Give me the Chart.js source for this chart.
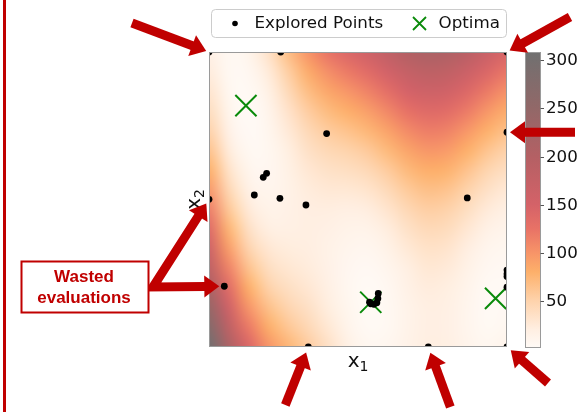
<!DOCTYPE html>
<html>
<head>
<meta charset="utf-8">
<script src="https://cdn.jsdelivr.net/npm/chart.js@4.4.1/dist/chart.umd.min.js"></script>
<style>
  html, body { margin: 0; padding: 0; background: #fff; }
  #wrap { width: 583px; height: 412px; }
</style>
</head>
<body>
<div id="wrap"><canvas id="c" width="583" height="412"></canvas></div>
<script>
// Branin surface, sampled on a 1x1 grid: rows are x2 = 0..15, columns x1 = -5..10
const X1_GRID = [-5,-4,-3,-2,-1,0,1,2,3,4,5,6,7,8,9,10];
const X2_GRID = [0,1,2,3,4,5,6,7,8,9,10,11,12,13,14,15];
const F_GRID = [
  [308.1,212.0,143.0,100.1,74.8,55.6,35.8,17.1,6.2,6.6,14.3,20.4,18.7,11.0,5.8,11.0],
  [274.7,184.2,120.1,81.7,60.4,44.6,27.7,11.4,2.4,4.2,12.8,19.2,17.3,8.9,2.6,6.0],
  [243.4,158.3,99.2,65.3,47.9,35.6,21.6,7.8,0.6,3.8,13.3,20.0,17.9,8.8,1.3,2.9],
  [214.0,134.4,80.4,50.9,37.5,28.6,17.6,6.1,0.9,5.4,15.7,22.8,20.5,10.7,2.0,1.9],
  [186.6,112.6,63.5,38.5,29.0,23.6,15.5,6.4,3.1,9.0,20.2,27.6,25.1,14.7,4.7,2.9],
  [161.2,92.7,48.6,28.1,22.6,20.6,15.4,8.8,7.3,14.6,26.6,34.4,31.8,20.6,9.4,5.9],
  [137.9,74.8,35.7,19.7,18.2,19.6,17.3,13.1,13.5,22.2,35.1,43.2,40.4,28.5,16.2,10.9],
  [116.5,59.0,24.9,13.3,15.7,20.6,21.2,19.4,21.8,31.8,45.5,54.0,51.0,38.5,24.9,17.9],
  [97.1,45.1,16.0,8.9,15.3,23.6,27.2,27.8,32.0,43.4,58.0,66.8,63.6,50.4,35.6,26.9],
  [79.8,33.2,9.1,6.5,16.8,28.6,35.1,38.1,44.2,57.0,72.4,81.6,78.2,64.3,48.3,37.9],
  [64.4,23.4,4.2,6.1,20.4,35.6,45.0,50.4,58.4,72.6,88.9,98.4,94.9,80.3,63.0,50.9],
  [51.0,15.5,1.4,7.7,25.9,44.6,56.9,64.8,74.7,90.2,107.4,117.2,113.5,98.2,79.7,65.9],
  [39.6,9.6,0.5,11.3,33.5,55.6,70.9,81.1,92.9,109.8,127.8,138.0,134.1,118.1,98.5,82.9],
  [30.3,5.8,1.6,16.9,43.1,68.6,86.8,99.4,113.1,131.4,150.3,160.8,156.7,140.0,119.2,101.9],
  [22.9,3.9,4.7,24.5,54.6,83.6,104.7,119.8,135.3,155.0,174.7,185.6,181.4,164.0,141.9,122.9],
  [17.5,4.0,9.9,34.1,68.2,100.6,124.6,142.1,159.6,180.6,201.2,212.4,208.0,189.9,166.6,145.9]
];

// sampled locations
const EXPLORED_X1 = [-5,-1.39,10,0.92,10,-2.10,-2.27,-2.72,-1.43,-0.12,-5,8.0,-4.23,3.52,3.50,3.45,3.30,3.14,3.08,10,10,10,10,0,6.04,10];
const EXPLORED_X2 = [15,15,15,10.85,10.92,8.83,8.63,7.73,7.56,7.22,7.51,7.58,3.09,2.72,2.47,2.25,2.17,2.20,2.28,3.91,3.72,3.58,3.04,0,0,0];

// the three global minima
const OPTIMA_X1 = [-3.1416, 3.1416, 9.4248];
const OPTIMA_X2 = [12.275, 2.275, 2.475];

const CB_TICKS = [50,100,150,200,250,300];
const CB_MIN = 1.5, CB_MAX = 308.1;

// edge samples that get an arrow, and the two called out by the note
const EDGE_HITS = [0, 2, 4, 23, 24, 25];
const WASTED_HITS = [10, 12];

// colour ramp: value -> rgb
const CMAP = [
  [0,   [255,250,246]],
  [20,  [255,239,226]],
  [50,  [254,211,172]],
  [80,  [253,176,106]],
  [100, [247,148,104]],
  [125, [232,114,102]],
  [150, [212,98,104]],
  [200, [180,96,100]],
  [250, [146,104,104]],
  [308, [112,112,112]]
];
function valueColor(v){
  if (v <= CMAP[0][0]) return CMAP[0][1];
  for (let i = 1; i < CMAP.length; i++){
    const [v1, c1] = CMAP[i];
    if (v <= v1){
      const [v0, c0] = CMAP[i-1];
      const t = (v - v0) / (v1 - v0);
      return c0.map((c, k) => Math.round(c + (c1[k] - c) * t));
    }
  }
  return CMAP[CMAP.length-1][1];
}

const RED = "#c00000";
const GREEN = "#0a8a0a";
const FONT = "DejaVu Sans";

// small offscreen image holding one pixel per grid sample
const heatImg = document.createElement("canvas");
heatImg.width = X1_GRID.length; heatImg.height = X2_GRID.length;
(function(){
  const hctx = heatImg.getContext("2d");
  const w = heatImg.width, h = heatImg.height;
  const img = hctx.createImageData(w, h);
  F_GRID.forEach((row, j) => row.forEach((v, i) => {
    const c = valueColor(v), k = ((h - 1 - j) * w + i) * 4;
    img.data[k] = c[0]; img.data[k+1] = c[1]; img.data[k+2] = c[2]; img.data[k+3] = 255;
  }));
  hctx.putImageData(img, 0, 0);
})();

const heatmapPlugin = {
  id: "heatmap",
  beforeDatasetsDraw(chart){
    const { ctx, chartArea: a, scales: { x, y } } = chart;
    const hx = (X1_GRID[1] - X1_GRID[0]) / 2, hy = (X2_GRID[1] - X2_GRID[0]) / 2;
    const left = x.getPixelForValue(X1_GRID[0] - hx), right = x.getPixelForValue(X1_GRID[X1_GRID.length-1] + hx);
    const top = y.getPixelForValue(X2_GRID[X2_GRID.length-1] + hy), bottom = y.getPixelForValue(X2_GRID[0] - hy);
    ctx.save();
    ctx.beginPath(); ctx.rect(a.left, a.top, a.width, a.height); ctx.clip();
    ctx.imageSmoothingEnabled = true; ctx.imageSmoothingQuality = "high";
    ctx.drawImage(heatImg, left, top, right - left, bottom - top);
    ctx.restore();
  },
  afterDatasetsDraw(chart){
    const { ctx, chartArea: a } = chart;
    ctx.save();
    ctx.strokeStyle = "#9a9a9a"; ctx.lineWidth = 1;
    ctx.strokeRect(a.left + 0.5, a.top + 0.5, a.width - 1, a.height - 1);
    ctx.restore();
  }
};

function drawSubLabel(ctx, main, sub, x, y){
  ctx.font = "20px " + FONT;
  const w1 = ctx.measureText(main).width;
  ctx.font = "14px " + FONT;
  const w2 = ctx.measureText(sub).width;
  const x0 = x - (w1 + w2) / 2;
  ctx.textBaseline = "alphabetic"; ctx.textAlign = "left";
  ctx.font = "20px " + FONT; ctx.fillText(main, x0, y);
  ctx.font = "14px " + FONT; ctx.fillText(sub, x0 + w1, y + 4);
}

const axisLabelPlugin = {
  id: "axisLabels",
  afterDraw(chart){
    const { ctx, chartArea: a } = chart;
    ctx.save();
    ctx.fillStyle = "#111";
    drawSubLabel(ctx, "x", "1", (a.left + a.right) / 2, a.bottom + 20);
    ctx.translate(a.left - 9, (a.top + a.bottom) / 2);
    ctx.rotate(-Math.PI / 2);
    drawSubLabel(ctx, "x", "2", 0, 0);
    ctx.restore();
  }
};

const colorbarPlugin = {
  id: "colorbar",
  afterDraw(chart){
    const { ctx, chartArea: a } = chart;
    const left = a.right + 18.5, w = 15, top = a.top + 0.5, bottom = a.bottom + 0.5;
    const yOf = v => bottom - (v - CB_MIN) / (CB_MAX - CB_MIN) * (bottom - top);
    ctx.save();
    const g = ctx.createLinearGradient(0, top, 0, bottom);
    CMAP.forEach(([v, c]) => {
      const off = Math.min(1, Math.max(0, (CB_MAX - v) / (CB_MAX - CB_MIN)));
      g.addColorStop(off, `rgb(${c[0]},${c[1]},${c[2]})`);
    });
    ctx.fillStyle = g;
    ctx.fillRect(left, top, w, bottom - top);
    ctx.strokeStyle = "#9a9a9a"; ctx.lineWidth = 1;
    ctx.strokeRect(left, top, w, bottom - top);
    ctx.font = "16.7px " + FONT; ctx.fillStyle = "#111";
    ctx.textAlign = "left"; ctx.textBaseline = "middle";
    CB_TICKS.forEach(v => {
      const ty = Math.round(yOf(v)) + 0.5;
      ctx.strokeStyle = "#555";
      ctx.beginPath(); ctx.moveTo(left + w, ty); ctx.lineTo(left + w + 3.5, ty); ctx.stroke();
      ctx.fillText(String(v), left + w + 5.5, ty);
    });
    ctx.restore();
  }
};

const legendPlugin = {
  id: "boxLegend",
  afterDraw(chart){
    const { ctx } = chart;
    const bx = 211.5, by = 9.5, bw = 295, bh = 28, cy = by + bh / 2;
    ctx.save();
    ctx.beginPath(); ctx.roundRect(bx, by, bw, bh, 4);
    ctx.fillStyle = "rgba(255,255,255,0.85)"; ctx.fill();
    ctx.strokeStyle = "#cccccc"; ctx.lineWidth = 1; ctx.stroke();
    const ds = chart.data.datasets;
    ctx.fillStyle = "#000";
    ctx.beginPath(); ctx.arc(bx + 23.5, cy, 2.8, 0, Math.PI * 2); ctx.fill();
    ctx.strokeStyle = GREEN; ctx.lineWidth = 1.8;
    const ox = bx + 208, r = 6.5;
    ctx.beginPath();
    ctx.moveTo(ox - r, cy - r); ctx.lineTo(ox + r, cy + r);
    ctx.moveTo(ox - r, cy + r); ctx.lineTo(ox + r, cy - r);
    ctx.stroke();
    ctx.fillStyle = "#111"; ctx.font = "16.7px " + FONT;
    ctx.textAlign = "left"; ctx.textBaseline = "middle";
    ctx.fillText(ds[0].label, bx + 43, cy);
    ctx.fillText(ds[1].label, bx + 227, cy);
    ctx.restore();
  }
};

// red call-outs
const SHAFT_W = 9, HEAD_W = 22, HEAD_L = 15;
function arrowHead(ctx, bx, by, hx, hy, ux, uy){
  const nx = -uy, ny = ux;
  ctx.beginPath();
  ctx.moveTo(bx + nx * HEAD_W / 2, by + ny * HEAD_W / 2);
  ctx.lineTo(hx, hy);
  ctx.lineTo(bx - nx * HEAD_W / 2, by - ny * HEAD_W / 2);
  ctx.closePath(); ctx.fill();
}
function arrow(ctx, tx, ty, hx, hy){
  const L = Math.hypot(hx - tx, hy - ty), ux = (hx - tx) / L, uy = (hy - ty) / L;
  const bx = hx - ux * HEAD_L, by = hy - uy * HEAD_L;
  ctx.beginPath(); ctx.moveTo(tx, ty); ctx.lineTo(bx + ux, by + uy); ctx.stroke();
  arrowHead(ctx, bx, by, hx, hy, ux, uy);
}
function tipToward(px, py, fx, fy, gap){
  const L = Math.hypot(px - fx, py - fy);
  return [px - (px - fx) / L * gap, py - (py - fy) / L * gap];
}

const EDGE_TAILS = [[-77,-29],[63,-35],[68,0],[-23,58],[22,60],[41,36]];
const EDGE_GAPS = [3, 3, 3, 6, 6, 5];

const calloutPlugin = {
  id: "callouts",
  afterDraw(chart){
    const { ctx, scales: { x, y } } = chart;
    const px = i => [x.getPixelForValue(EXPLORED_X1[i]), y.getPixelForValue(EXPLORED_X2[i])];
    ctx.save();
    ctx.fillStyle = RED; ctx.strokeStyle = RED;
    ctx.lineWidth = SHAFT_W; ctx.lineCap = "butt"; ctx.lineJoin = "miter";

    ctx.fillRect(3, 0, 3, chart.height);

    EDGE_HITS.forEach((idx, k) => {
      const [cx, cy] = px(idx);
      const tx = cx + EDGE_TAILS[k][0], ty = cy + EDGE_TAILS[k][1];
      const [hx, hy] = tipToward(cx, cy, tx, ty, EDGE_GAPS[k]);
      arrow(ctx, tx, ty, hx, hy);
    });

    // note box with a bent double arrow
    const vx = 153, vy = 287;
    const tips = WASTED_HITS.map(idx => { const [cx, cy] = px(idx); return tipToward(cx, cy, vx, vy, 5); });
    const bases = tips.map(([hx, hy]) => {
      const L = Math.hypot(hx - vx, hy - vy), ux = (hx - vx) / L, uy = (hy - vy) / L;
      return { bx: hx - ux * HEAD_L, by: hy - uy * HEAD_L, ux, uy, hx, hy };
    });
    ctx.beginPath();
    ctx.moveTo(bases[0].bx + bases[0].ux, bases[0].by + bases[0].uy);
    ctx.lineTo(vx, vy);
    ctx.lineTo(bases[1].bx + bases[1].ux, bases[1].by + bases[1].uy);
    ctx.stroke();
    bases.forEach(b => arrowHead(ctx, b.bx, b.by, b.hx, b.hy, b.ux, b.uy));

    ctx.lineWidth = 2;
    ctx.fillStyle = "#fff";
    ctx.fillRect(21.5, 261.5, 127, 51);
    ctx.strokeRect(21.5, 261.5, 127, 51);
    ctx.fillStyle = RED;
    ctx.font = "bold 17px 'Liberation Sans', Arial, sans-serif";
    ctx.textAlign = "center"; ctx.textBaseline = "middle";
    ctx.fillText("Wasted", 84, 277);
    ctx.fillText("evaluations", 84, 298.5);
    ctx.restore();
  }
};

new Chart(document.getElementById("c"), {
  type: "scatter",
  data: {
    datasets: [
      {
        label: "Explored Points",
        data: EXPLORED_X1.map((v, i) => ({ x: v, y: EXPLORED_X2[i] })),
        pointRadius: 3.4,
        pointBackgroundColor: "#000",
        pointBorderWidth: 0,
        clip: 0,
        order: 1
      },
      {
        label: "Optima",
        data: OPTIMA_X1.map((v, i) => ({ x: v, y: OPTIMA_X2[i] })),
        pointStyle: "crossRot",
        pointRadius: 15,
        pointBorderColor: GREEN,
        pointBorderWidth: 2,
        clip: 0,
        order: 2
      }
    ]
  },
  options: {
    responsive: false,
    animation: false,
    events: [],
    layout: { padding: { left: 209, right: 76, top: 52, bottom: 65 } },
    scales: {
      x: { type: "linear", min: -5, max: 10, display: false },
      y: { type: "linear", min: 0, max: 15, display: false }
    },
    plugins: { legend: { display: false }, tooltip: { enabled: false } }
  },
  plugins: [heatmapPlugin, axisLabelPlugin, colorbarPlugin, legendPlugin, calloutPlugin]
});
</script>
</body>
</html>
